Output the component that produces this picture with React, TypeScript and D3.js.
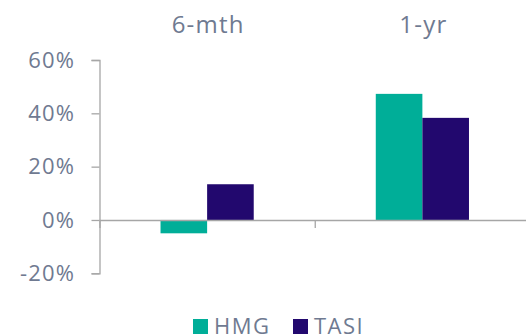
import { useEffect, useRef } from "react";
import * as d3 from "d3";

const PERIODS = ["6-mth", "1-yr"];
const SERIES = ["HMG", "TASI"];
const HMG_VALUES = [-5, 47.3];
const TASI_VALUES = [13.4, 38.3];
const Y_TICKS = [-20, 0, 20, 40, 60];

const COLORS: Record<string, string> = {
  HMG: "#00ae98",
  TASI: "#22086e",
};

const TEXT = "#6f7a91";
const AXIS = "#a6a6a6";
const FONT = "'Open Sans', Lato, sans-serif";

export default function App() {
  const svgRef = useRef<SVGSVGElement | null>(null);

  useEffect(() => {
    const svg = d3.select(svgRef.current);
    svg.selectAll("*").remove();

    const left = 99.5;
    const right = 530;

    const x = d3.scaleBand<string>().domain(PERIODS).range([left, right]);
    const bw = x.bandwidth();
    const xs = d3
      .scaleBand<string>()
      .domain(SERIES)
      .range([bw * 0.2835, bw * 0.7165]);

    const y = d3.scaleLinear().domain([-20, 60]).range([273.3, 60]);

    const rows = PERIODS.map((p, i) => ({
      period: p,
      HMG: HMG_VALUES[i],
      TASI: TASI_VALUES[i],
    }));

    // bars
    const groups = svg
      .append("g")
      .selectAll("g")
      .data(rows)
      .join("g")
      .attr("transform", (d) => `translate(${x(d.period)},0)`);

    groups
      .selectAll("rect")
      .data((d) => SERIES.map((s) => ({ s, v: (d as any)[s] as number })))
      .join("rect")
      .attr("x", (d) => xs(d.s)!)
      .attr("width", xs.bandwidth())
      .attr("y", (d) => y(Math.max(0, d.v)))
      .attr("height", (d) => Math.abs(y(d.v) - y(0)))
      .attr("fill", (d) => COLORS[d.s]);

    // y axis
    const yAxis = svg
      .append("g")
      .attr("transform", `translate(${left},0)`)
      .call(
        d3
          .axisLeft(y)
          .tickValues(Y_TICKS)
          .tickSize(8)
          .tickPadding(16.3)
          .tickFormat((d) => `${d}%`)
      );
    yAxis.select(".domain").attr("stroke", AXIS).attr("stroke-width", 1.3);
    yAxis.selectAll(".tick line").attr("stroke", AXIS).attr("stroke-width", 1.3);
    yAxis
      .selectAll(".tick text")
      .attr("fill", TEXT)
      .attr("font-size", 22)
      .attr("letter-spacing", 1.2)
      .attr("font-family", FONT);

    // x axis at zero
    const xAxis = svg
      .append("g")
      .attr("transform", `translate(0,${y(0)})`)
      .call(
        d3
          .axisBottom(d3.scaleLinear().domain([0, 1]).range([left, right]))
          .tickValues([0.5])
          .tickSize(8)
          .tickFormat(() => "")
      );
    xAxis.select(".domain").attr("stroke", AXIS).attr("stroke-width", 1.3);
    xAxis.selectAll(".tick line").attr("stroke", AXIS).attr("stroke-width", 1.3);

    // category labels on top
    svg
      .append("g")
      .selectAll("text")
      .data(PERIODS)
      .join("text")
      .attr("x", (d) => x(d)! + bw / 2 + 1)
      .attr("y", 33)
      .attr("text-anchor", "middle")
      .attr("fill", TEXT)
      .attr("font-size", 24)
      .attr("letter-spacing", 1.2)
      .attr("font-family", FONT)
      .text((d) => d);

    // legend
    const legendX = [193, 293];
    const lg = svg
      .append("g")
      .selectAll("g")
      .data(SERIES)
      .join("g")
      .attr("transform", (_, i) => `translate(${legendX[i]},319)`);
    lg.append("rect")
      .attr("width", 15)
      .attr("height", 15)
      .attr("fill", (d) => COLORS[d]);
    lg.append("text")
      .attr("x", 21)
      .attr("y", 14.5)
      .attr("fill", TEXT)
      .attr("font-size", 22)
      .attr("letter-spacing", 1.5)
      .attr("font-family", FONT)
      .text((d) => d);
  }, []);

  return (
    <svg
      ref={svgRef}
      width={526}
      height={334}
      style={{ position: "absolute", left: 0, top: 0, background: "#fff" }}
    />
  );
}
